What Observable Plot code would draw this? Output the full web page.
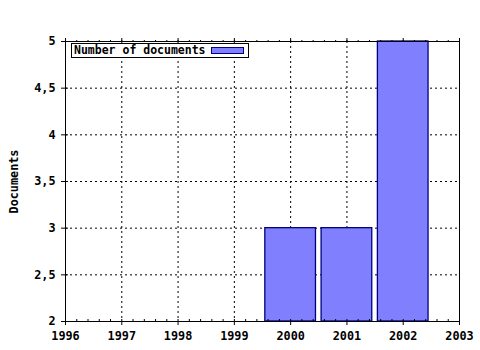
<!DOCTYPE html>
<html><head><meta charset="utf-8">
<script src="https://cdn.jsdelivr.net/npm/d3@7"></script>
<script src="https://cdn.jsdelivr.net/npm/@observablehq/plot@0.6"></script>
<style>
body{margin:0;background:#fff;}
#wrap{position:relative;width:480px;height:350px;}
#legend{position:absolute;left:71px;top:43px;width:176px;height:13px;border:1px solid #000;background:#fff;
 font:bold 11.5px "DejaVu Sans Mono",monospace;line-height:13px;box-sizing:content-box;}
#legend span.t{position:absolute;left:2px;top:0px;white-space:nowrap;}
#legend span.s{position:absolute;left:139px;top:3px;width:31px;height:5px;background:#8080ff;border:1px solid #000080;}
</style>
</head><body>
<div id="wrap"></div>
<script>
const years = [2000, 2001, 2002];
const documents = [3, 3, 5];
const xTicks = [1996, 1997, 1998, 1999, 2000, 2001, 2002, 2003];
const yTicks = [2, 2.5, 3, 3.5, 4, 4.5, 5];
const seriesName = "Number of documents";
const yLabel = "Documents";

const data = years.map((y, i) => ({year: y, value: documents[i]}));
const minor = d3.range(0, 36).map(i => +(1996 + i * 0.2).toFixed(1));
const font = {fontFamily: "DejaVu Sans Mono", fontWeight: "bold", fontSize: 11.8};
const fmtY = d => String(d).replace(".", ",");
const dash = {stroke: "#000", strokeOpacity: 1, strokeDasharray: "2,3"};

const chart = Plot.plot({
  width: 480, height: 350,
  marginLeft: 65, marginRight: 21, marginTop: 41, marginBottom: 29,
  x: {domain: [1996, 2003]},
  y: {domain: [2, 5]},
  style: {background: "#fff", color: "#000", ...font},
  marks: [
    Plot.gridX(xTicks.slice(1, -1), dash),
    Plot.gridY(yTicks.slice(1, -1), dash),
    Plot.rectY(data, {x1: d => d.year - 0.45, x2: d => d.year + 0.45, y1: () => 2, y2: "value",
      fill: "#8080ff", stroke: "#000080", strokeWidth: 1.3}),
    Plot.frame({stroke: "#000"}),
    Plot.axisX(xTicks, {tickSize: 4, tickPadding: 6, tickFormat: "d", label: null, ...font}),
    Plot.axisX(minor, {tickSize: -2, text: null, label: null}),
    Plot.axisX(minor, {anchor: "top", tickSize: 2, text: null, label: null}),
    Plot.axisX(xTicks, {anchor: "top", tickSize: 4, text: null, label: null}),
    Plot.axisY(yTicks, {tickSize: 4, tickPadding: 6, tickFormat: fmtY, label: yLabel,
      labelAnchor: "center", labelArrow: "none", labelOffset: 56, ...font}),
    Plot.axisY(yTicks, {tickSize: -3, text: null, label: null})
  ]
});
const wrap = document.getElementById("wrap");
wrap.appendChild(chart);
const leg = document.createElement("div");
leg.id = "legend";
leg.innerHTML = `<span class="t">${seriesName}</span><span class="s"></span>`;
wrap.appendChild(leg);
</script>
</body></html>
